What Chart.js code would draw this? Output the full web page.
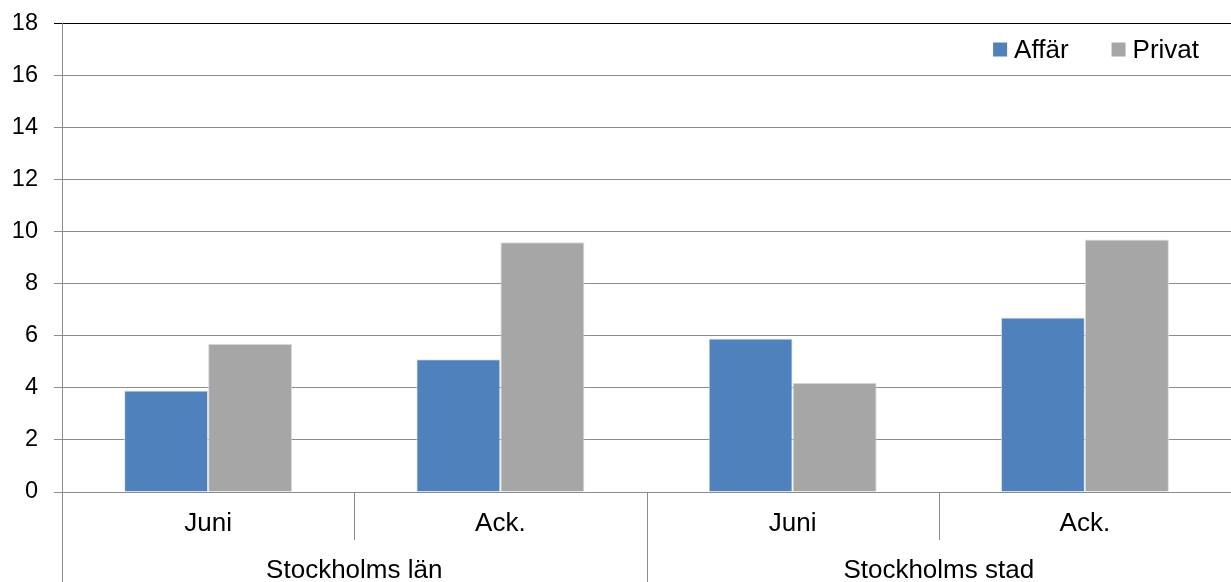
<!DOCTYPE html>
<html>
<head>
<meta charset="utf-8">
<script src="https://cdn.jsdelivr.net/npm/chart.js@4"></script>
<style>
html,body{margin:0;padding:0;background:#fff;}
#wrap{width:1231px;height:582px;position:relative;}
</style>
</head>
<body>
<div id="wrap"><canvas id="c"></canvas></div>
<script>
const periods = ["Juni", "Ack.", "Juni", "Ack."];
const groups = ["Stockholms län", "Stockholms stad"];
const affar = [3.9, 5.1, 5.9, 6.7];
const privat = [5.7, 9.6, 4.2, 9.7];
const yTicks = [0, 2, 4, 6, 8, 10, 12, 14, 16, 18];

const FONT = "'Liberation Sans', Arial, sans-serif";

const separators = {
  id: 'separators',
  afterDraw(chart) {
    const ctx = chart.ctx;
    const x = chart.scales.x;
    const area = chart.chartArea;
    ctx.save();
    ctx.strokeStyle = '#8c8c8c';
    ctx.lineWidth = 1;
    ctx.beginPath();
    ctx.moveTo(Math.round(area.left) + 0.5, area.bottom);
    ctx.lineTo(Math.round(area.left) + 0.5, chart.height);
    ctx.stroke();
    for (let i = 0; i < periods.length - 1; i++) {
      const px = Math.round((x.getPixelForValue(i) + x.getPixelForValue(i + 1)) / 2) + 0.5;
      const groupEnd = (i % 2 === 1);
      ctx.beginPath();
      ctx.moveTo(px, area.bottom);
      ctx.lineTo(px, groupEnd ? chart.height : area.bottom + 48);
      ctx.stroke();
    }
    ctx.restore();
  }
};

const insideLegend = {
  id: 'insideLegend',
  afterDraw(chart) {
    const ctx = chart.ctx;
    const area = chart.chartArea;
    ctx.save();
    ctx.font = '26px ' + FONT;
    ctx.textBaseline = 'middle';
    ctx.textAlign = 'left';
    const box = 14, gap = 7, itemGap = 43;
    const items = chart.data.datasets.map(d => ({ label: d.label, color: d.backgroundColor, w: ctx.measureText(d.label).width }));
    let total = 0;
    items.forEach((it, i) => { total += box + gap + it.w + (i > 0 ? itemGap : 0); });
    let xPos = area.right - 32 - total;
    const cy = area.top + 26;
    items.forEach((it, i) => {
      if (i > 0) xPos += itemGap;
      ctx.fillStyle = it.color;
      ctx.fillRect(xPos, cy - box / 2, box, box);
      xPos += box + gap;
      ctx.fillStyle = '#000';
      ctx.fillText(it.label, xPos, cy + 1);
      xPos += it.w;
    });
    ctx.restore();
  }
};

new Chart(document.getElementById('c'), {
  type: 'bar',
  data: {
    labels: periods,
    datasets: [
      { label: 'Affär', data: affar, backgroundColor: '#4F81BD', borderColor: 'rgba(220,230,245,0.9)', borderWidth: 1, xAxisID: 'x' },
      { label: 'Privat', data: privat, backgroundColor: '#A6A6A6', borderColor: 'rgba(215,215,215,0.9)', borderWidth: 1, xAxisID: 'x' }
    ]
  },
  options: {
    responsive: true,
    maintainAspectRatio: false,
    animation: false,
    categoryPercentage: 0.575,
    barPercentage: 1.0,
    layout: { padding: { top: 23.5, right: 0, left: 0, bottom: 0 } },
    plugins: {
      tooltip: { enabled: false },
      legend: { display: false }
    },
    scales: {
      x: {
        type: 'category',
        position: 'bottom',
        grid: { display: false, drawTicks: false },
        border: { display: false },
        ticks: { color: '#000', font: { family: FONT, size: 26 }, padding: 16, maxRotation: 0 },
        afterFit(s) { s.height = 48; s.paddingLeft = 0; s.paddingRight = 0; }
      },
      x2: {
        type: 'category',
        position: 'bottom',
        labels: groups,
        grid: { display: false, drawTicks: false },
        border: { display: false },
        ticks: { color: '#000', font: { family: FONT, size: 26 }, padding: 15, maxRotation: 0 },
        afterFit(s) { s.height = 42; s.paddingLeft = 0; s.paddingRight = 0; }
      },
      y: {
        min: 0,
        max: 18,
        afterBuildTicks(s) { s.ticks = yTicks.map(v => ({ value: v })); },
        grid: {
          color: (c) => c.tick && c.tick.value === 18 ? '#000' : '#8c8c8c',
          lineWidth: 1,
          tickLength: 8,
          drawTicks: true
        },
        border: { display: true, color: '#8c8c8c' },
        ticks: { color: '#000', font: { family: FONT, size: 23.5, lineHeight: 1 }, padding: 16 },
        afterFit(s) { s.width = 62; s.paddingTop = 0; s.paddingBottom = 0; }
      }
    }
  },
  plugins: [separators, insideLegend]
});
</script>
</body>
</html>
